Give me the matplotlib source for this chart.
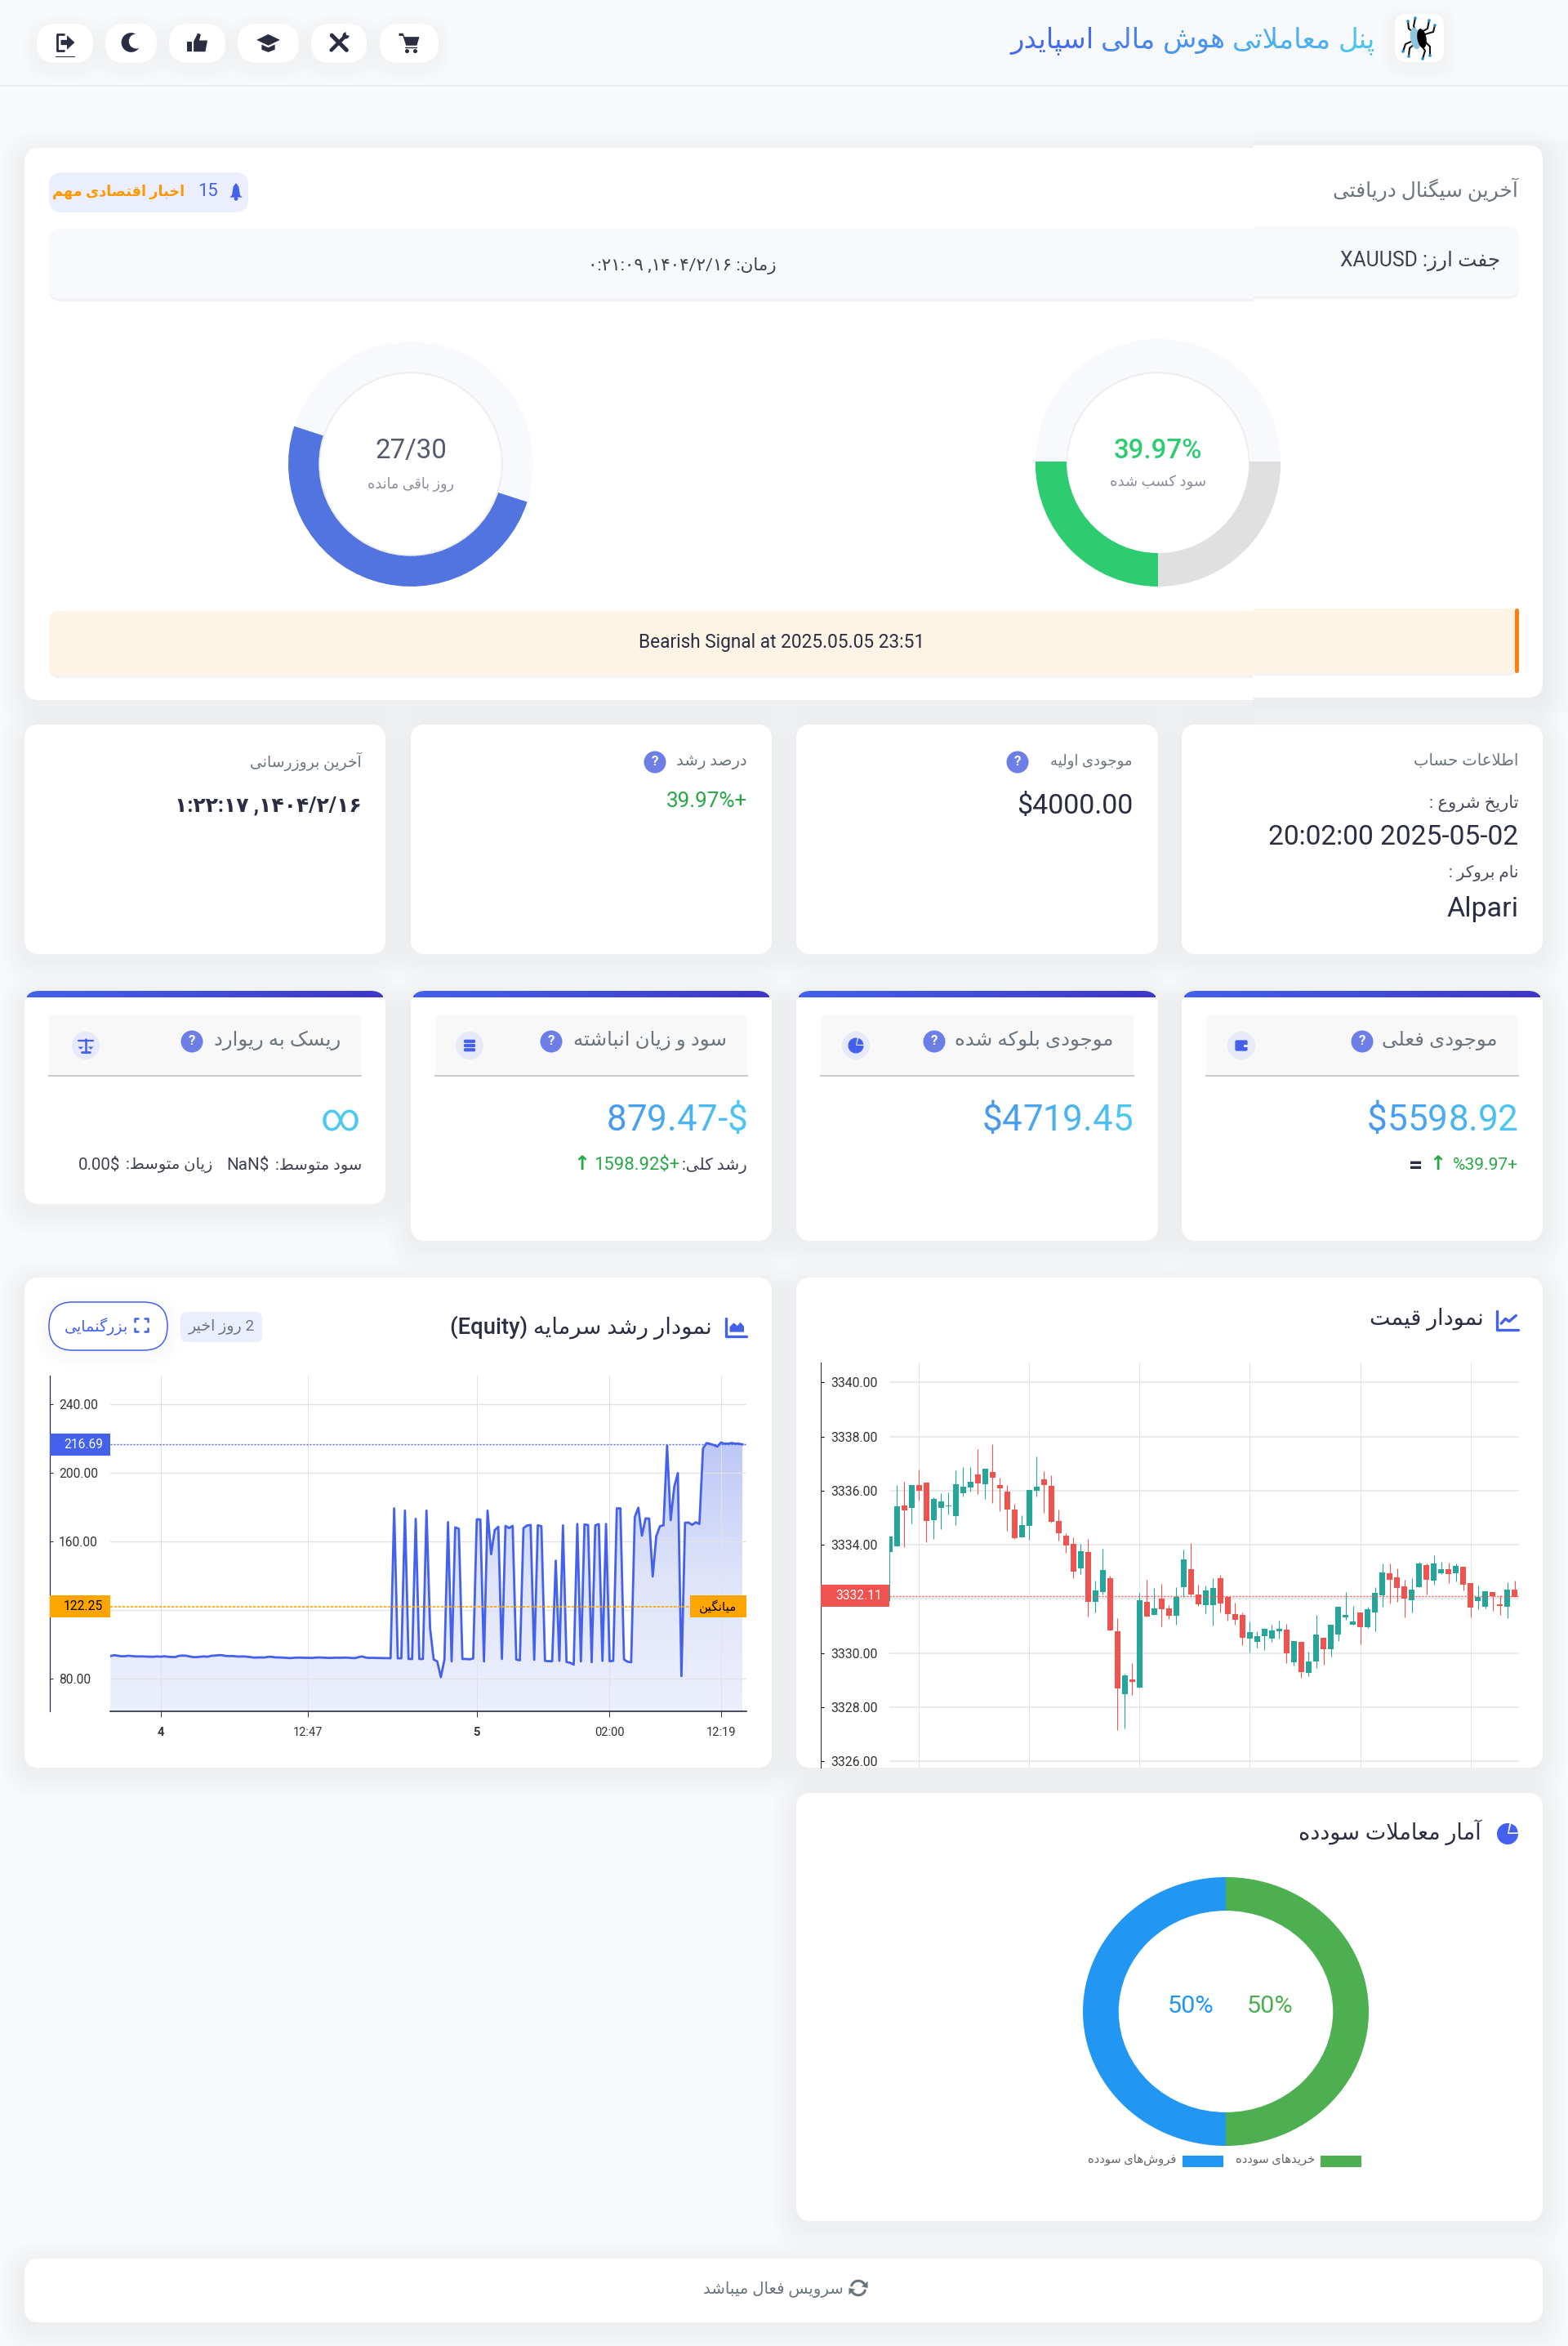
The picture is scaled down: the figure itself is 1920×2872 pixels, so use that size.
"""Persian trading dashboard, rebuilt with matplotlib."""
import re

import matplotlib
matplotlib.use("Agg")
import matplotlib.pyplot as plt
from matplotlib.colors import LinearSegmentedColormap, to_rgb
from matplotlib.patches import Circle, Ellipse, FancyBboxPatch, Polygon, Rectangle, Wedge
from matplotlib.transforms import blended_transform_factory
import numpy as np

W, H = 1920, 2872

# ---------- data ----------
candle_open = [3333.73, 3333.94, 3335.46, 3335.36, 3336.21, 3336.30, 3334.91, 3335.36, 3335.43, 3335.06,
               3335.90, 3336.11, 3336.60, 3336.24, 3336.69, 3336.21, 3335.97, 3335.30, 3334.27, 3334.70,
               3336.00, 3336.41, 3336.17, 3334.88, 3334.33, 3334.03, 3333.13, 3333.73, 3331.89, 3332.26,
               3332.76, 3330.80, 3328.48, 3329.02, 3328.72, 3331.89, 3331.40, 3332.02, 3331.65, 3331.38,
               3332.43, 3333.10, 3332.16, 3331.77, 3331.77, 3332.76, 3332.08, 3331.43, 3331.40, 3330.54,
               3330.42, 3330.62, 3330.54, 3330.80, 3330.86, 3329.66, 3330.42, 3329.26, 3329.69, 3330.56,
               3330.15, 3330.69, 3331.32, 3331.05, 3331.50, 3330.96, 3331.50, 3332.14, 3332.95, 3332.80,
               3332.46, 3331.95, 3332.43, 3333.25, 3332.67, 3332.95, 3333.10, 3332.95, 3333.19, 3332.59,
               3331.92, 3331.71, 3332.26, 3331.80, 3331.71, 3332.34]
candle_close = [3334.30, 3335.43, 3335.27, 3336.21, 3336.00, 3334.88, 3335.70, 3335.60, 3335.46, 3336.24,
                3336.14, 3336.33, 3336.27, 3336.81, 3336.48, 3336.09, 3335.30, 3334.24, 3334.73, 3336.03,
                3336.14, 3336.21, 3334.84, 3334.43, 3333.97, 3333.00, 3333.76, 3331.89, 3332.32, 3333.07,
                3330.83, 3328.69, 3329.18, 3328.93, 3331.95, 3331.35, 3331.65, 3331.62, 3331.38, 3332.08,
                3333.46, 3332.16, 3331.80, 3332.32, 3332.40, 3331.83, 3331.43, 3331.23, 3330.57, 3330.77,
                3330.62, 3330.89, 3330.83, 3330.89, 3330.00, 3330.45, 3329.29, 3329.69, 3330.69, 3330.15,
                3331.05, 3331.71, 3331.40, 3331.16, 3330.96, 3331.62, 3332.22, 3332.97, 3332.70, 3332.40,
                3332.02, 3332.34, 3333.31, 3332.70, 3333.31, 3333.10, 3332.92, 3333.22, 3332.53, 3331.68,
                3332.08, 3332.29, 3332.10, 3331.74, 3332.34, 3332.08]
candle_high = [3334.30, 3336.21, 3336.33, 3336.21, 3336.78, 3336.30, 3335.76, 3335.90, 3335.94, 3336.75,
               3336.87, 3336.87, 3337.54, 3336.81, 3337.71, 3336.48, 3336.21, 3335.51, 3335.09, 3336.03,
               3337.27, 3336.73, 3336.57, 3335.30, 3334.43, 3334.27, 3334.03, 3334.21, 3332.67, 3333.86,
               3332.86, 3331.29, 3329.23, 3329.63, 3332.22, 3332.70, 3332.40, 3332.56, 3331.76, 3332.43,
               3333.83, 3334.06, 3332.53, 3332.50, 3332.76, 3332.89, 3332.08, 3331.86, 3331.50, 3331.16,
               3330.80, 3330.93, 3331.05, 3331.20, 3331.08, 3330.45, 3330.42, 3330.06, 3331.40, 3330.56,
               3331.05, 3331.71, 3332.26, 3331.74, 3331.50, 3331.71, 3332.43, 3333.31, 3333.31, 3333.13,
               3332.70, 3332.76, 3333.37, 3333.31, 3333.61, 3333.37, 3333.34, 3333.31, 3333.19, 3332.59,
               3332.50, 3332.29, 3332.26, 3332.13, 3332.62, 3332.67]
candle_low = [3331.91, 3333.94, 3333.91, 3334.78, 3335.63, 3334.10, 3334.21, 3334.57, 3335.13, 3334.73,
              3335.78, 3335.97, 3335.87, 3335.70, 3335.54, 3335.24, 3334.52, 3334.21, 3334.27, 3334.19,
              3335.78, 3335.18, 3334.82, 3334.16, 3333.70, 3332.76, 3332.92, 3331.35, 3331.50, 3332.17,
              3330.83, 3327.15, 3327.21, 3328.45, 3328.72, 3331.35, 3331.40, 3330.99, 3331.26, 3331.05,
              3332.08, 3332.13, 3331.74, 3331.47, 3331.02, 3331.50, 3331.20, 3331.05, 3330.30, 3330.03,
              3330.21, 3330.12, 3330.42, 3330.54, 3329.63, 3329.54, 3329.10, 3329.16, 3329.45, 3329.56,
              3329.87, 3330.45, 3331.23, 3331.05, 3330.32, 3330.93, 3330.80, 3331.71, 3331.83, 3331.89,
              3331.32, 3331.50, 3332.43, 3332.16, 3332.53, 3332.92, 3332.59, 3332.64, 3332.32, 3331.32,
              3331.62, 3331.65, 3331.56, 3331.40, 3331.29, 3332.08]
price_ticks = [3340, 3338, 3336, 3334, 3332, 3330, 3328, 3326]
price_time_idx = [4, 19, 34, 49, 64, 79]
last_price = 3332.11

equity_values = [93.3, 93.8, 93.5, 93.2, 93.2, 93.5, 93.3, 93.1, 93.1, 93.1, 93.0, 92.9, 92.9, 93.1, 92.9, 93.2,
                 92.9, 92.8, 92.7, 93.4, 93.6, 93.5, 93.1, 92.7, 92.7, 92.9, 93.1, 92.9, 93.4, 93.6,
                 93.8, 93.8, 93.4, 93.3, 93.3, 93.1, 93.0, 93.1, 92.9, 92.7, 92.4, 92.5, 92.5, 92.5, 92.9,
                 92.8, 92.5, 92.5, 92.4, 92.3, 92.1, 92.3, 92.4, 92.4, 92.3, 92.3, 92.2, 92.4, 92.5, 92.4,
                 92.3, 92.2, 92.3, 92.4, 92.3, 92.4, 92.4, 92.2, 92.1, 92.6, 93.1, 92.5, 92.2, 92.3, 92.2,
                 92.2, 92.1, 92.1, 92.0,
                 179.4, 92.0, 92.0, 178.1, 91.6, 91.6, 173.3, 91.6, 91.6, 178.1, 109.5, 91.3, 90.2, 81.0, 91.3,
                 171.4, 90.2, 168.3, 167.5, 91.6, 91.6, 91.4, 91.9, 173.0, 172.9, 90.2, 178.1, 152.7, 166.7,
                 168.7, 91.6, 169.2, 167.9, 169.2, 91.3, 90.8, 167.9, 169.4, 169.7, 91.1, 169.5, 169.0, 90.5,
                 90.3, 90.3, 148.9, 90.5, 169.5, 89.8, 89.4, 88.3, 170.3, 90.2, 170.0, 169.7, 89.7, 169.5,
                 170.2, 90.5, 170.3, 90.3, 90.5, 179.4, 179.4, 91.3, 90.0, 89.7, 174.3, 179.8, 163.5, 173.5,
                 173.5, 139.7, 163.2, 169.0, 169.5, 215.9, 172.5, 192.0, 200.0, 81.6, 171.0, 171.1, 169.8,
                 171.3, 170.3, 214.3, 217.5, 217.0, 216.3, 215.4, 217.8, 217.1, 217.1, 217.5, 217.1, 217.1, 216.7]
equity_ticks = [240, 200, 160, 120, 80]
equity_time_idx = [14, 55, 102, 139, 170]
equity_time_labels = ["4", "12:47", "5", "02:00", "12:19"]
equity_last = 216.69
equity_mean = 122.25

days_arc = [50, 50]
profit_arc = [50, 25, 25]
win_shares = [50, 50]

plt.rcParams["font.family"] = ["Roboto", "DejaVu Sans"]

DARK = "#2b2d42"
GREY = "#6c757d"
BLUE = "#4361ee"
GREEN = "#28a745"
CANDLE_UP = "#26a69a"
CANDLE_DOWN = "#ef5350"
PAGE = "#f8f9fb"
DOTTED = (0, (1.44, 1.44))


# ---------- Persian text: matplotlib does no shaping, so pick the glyph forms here ----------
def _block(start, n):
    return tuple(chr(start + k) for k in range(n))


FORMS = {"ا": _block(0xFE8D, 2), "آ": _block(0xFE81, 2), "ب": _block(0xFE8F, 4), "پ": _block(0xFB56, 4),
         "ت": _block(0xFE95, 4), "ث": _block(0xFE99, 4), "ج": _block(0xFE9D, 4), "چ": _block(0xFB7A, 4),
         "ح": _block(0xFEA1, 4), "خ": _block(0xFEA5, 4), "د": _block(0xFEA9, 2), "ذ": _block(0xFEAB, 2),
         "ر": _block(0xFEAD, 2), "ز": _block(0xFEAF, 2), "ژ": _block(0xFB8A, 2), "س": _block(0xFEB1, 4),
         "ش": _block(0xFEB5, 4), "ص": _block(0xFEB9, 4), "ض": _block(0xFEBD, 4), "ط": _block(0xFEC1, 4),
         "ظ": _block(0xFEC5, 4), "ع": _block(0xFEC9, 4), "غ": _block(0xFECD, 4), "ف": _block(0xFED1, 4),
         "ق": _block(0xFED5, 4), "ک": _block(0xFB8E, 4), "گ": _block(0xFB92, 4), "ل": _block(0xFEDD, 4),
         "م": _block(0xFEE1, 4), "ن": _block(0xFEE5, 4), "و": _block(0xFEED, 2), "ه": _block(0xFEE9, 4),
         "ی": _block(0xFBFC, 4), "\ue000": _block(0xFEFB, 2)}
LTR_RUN = re.compile(r"[A-Za-z0-9۰-۹]+(?:[.:/\-][A-Za-z0-9۰-۹]+)*")


def fa(s):
    s = s.replace("لا", "\ue000")
    out = []
    for i, c in enumerate(s):
        if c not in FORMS:
            out.append(c)
            continue
        prev_joins = i > 0 and s[i - 1] in FORMS and len(FORMS[s[i - 1]]) == 4
        next_joins = i + 1 < len(s) and s[i + 1] in FORMS
        f = FORMS[c]
        if len(f) == 2:
            out.append(f[1 if prev_joins else 0])
        elif prev_joins and next_joins:
            out.append(f[3])
        elif prev_joins:
            out.append(f[1])
        elif next_joins:
            out.append(f[2])
        else:
            out.append(f[0])
    text = "".join(out).replace("\u200c", "")
    text = text[::-1].translate(str.maketrans("()", ")("))
    return LTR_RUN.sub(lambda m: m.group(0)[::-1], text)


# ---------- canvas ----------
fig = plt.figure(figsize=(W / 100, H / 100), dpi=100, facecolor=PAGE)
ax = fig.add_axes([0, 0, 1, 1], zorder=0)
ax.set_xlim(0, W)
ax.set_ylim(H, 0)
ax.axis("off")
renderer = fig.canvas.get_renderer()


def px_axes(x0, y0, x1, y1, zorder=1):
    a = fig.add_axes([x0 / W, 1 - y1 / H, (x1 - x0) / W, (y1 - y0) / H], zorder=zorder)
    a.patch.set_alpha(0)
    return a


def rbox(x0, y0, x1, y1, r, fc, ec="none", lw=0, alpha=None, clip=None, z=1):
    p = FancyBboxPatch((x0, y0), x1 - x0, y1 - y0, boxstyle=f"round,pad=0,rounding_size={r}",
                       fc=fc, ec=ec, lw=lw, alpha=alpha, zorder=z)
    ax.add_patch(p)
    if clip is not None:
        p.set_clip_path(Rectangle((clip[0], 0), clip[1] - clip[0], H, transform=ax.transData))
    return p


def card(x0, y0, x1, y1, r=18, clip=None, z=1, layers=10, drop=8):
    for k in range(1, layers + 1):
        g = k * 3
        rbox(x0 - g, y0 - g + drop, x1 + g, y1 + g + drop, r + g, "#000000", alpha=0.004, clip=clip, z=z)
    return rbox(x0, y0, x1, y1, r, "#ffffff", clip=clip, z=z)


def t(x, y, s, px, color=DARK, ha="right", weight="normal", va="center", shape=True, z=5):
    return ax.text(x, y, fa(s) if shape else s, fontsize=px * 0.72, color=color, ha=ha, va=va,
                   fontweight=weight, zorder=z)


def mix(c0, c1, f):
    a, b = np.array(to_rgb(c0)), np.array(to_rgb(c1))
    return tuple(a + (b - a) * f)


def grad_text(x_right, y_base, visual, px, c_left, c_right, by_word=False, weight="normal"):
    # each piece gets its own colour, so the gradient of the original shows
    def width(s):
        if not s:
            return 0.0
        tmp = ax.text(0, 0, s, fontsize=px * 0.72, fontweight=weight)
        w = tmp.get_window_extent(renderer).width
        tmp.remove()
        return w

    total = width(visual)
    x0 = x_right - total
    if by_word:
        stops = [m.start() for m in re.finditer(r"\S+", visual)]
        ends = [m.end() for m in re.finditer(r"\S+", visual)]
    else:
        stops = list(range(len(visual)))
        ends = [i + 1 for i in stops]
    for a, b in zip(stops, ends):
        pos = width(visual[:a])
        f = (pos + width(visual[a:b]) / 2) / total
        ax.text(x0 + pos, y_base, visual[a:b], fontsize=px * 0.72, color=mix(c_left, c_right, f),
                ha="left", va="baseline", fontweight=weight, zorder=5)


def poly(pts, cx, cy, s, color, z=6):
    ax.add_patch(Polygon([(cx + a * s, cy + b * s) for a, b in pts], fc=color, ec="none", zorder=z))


def stroke(pts, cx, cy, s, color, lw=2.0, z=6):
    ax.plot([cx + a * s for a, _ in pts], [cy + b * s for _, b in pts], color=color, lw=lw, zorder=z,
            solid_capstyle="round", solid_joinstyle="round", scalex=False, scaley=False)


def dot(cx, cy, r, color, z=6):
    ax.add_patch(Circle((cx, cy), r, fc=color, ec="none", zorder=z))


def icon(kind, cx, cy, s, color=DARK, bg="#ffffff"):
    if kind == "logout":
        stroke([(-0.1, -0.8), (-0.8, -0.8), (-0.8, 0.8), (-0.1, 0.8)], cx, cy, s, color, 2.0)
        poly([(-0.4, -0.25), (0.2, -0.25), (0.2, -0.7), (0.95, 0), (0.2, 0.7), (0.2, 0.25), (-0.4, 0.25)], cx, cy, s, color)
        stroke([(-0.95, 1.35), (0.95, 1.35)], cx, cy, s, color, 0.8)
    elif kind == "moon":
        dot(cx, cy, s * 0.95, color)
        dot(cx + s * 0.5, cy - s * 0.12, s * 0.72, bg, z=7)
    elif kind == "thumb":
        poly([(-1, -0.1), (-0.5, -0.1), (-0.5, 0.9), (-1, 0.9)], cx, cy, s, color)
        poly([(-0.35, -0.1), (0.05, -0.9), (0.35, -0.8), (0.2, -0.2), (1, -0.2), (0.8, 0.9), (-0.35, 0.9)], cx, cy, s, color)
    elif kind == "cap":
        poly([(-1.15, -0.25), (0, -0.8), (1.15, -0.25), (0, 0.3)], cx, cy, s, color)
        poly([(-0.65, 0.2), (0, 0.5), (0.65, 0.2), (0.65, 0.7), (0, 0.95), (-0.65, 0.7)], cx, cy, s, color)
    elif kind == "tools":
        stroke([(-0.7, -0.7), (0.75, 0.75)], cx, cy, s, color, 3.6)
        stroke([(0.55, -0.55), (-0.75, 0.75)], cx, cy, s, color, 3.2)
        dot(cx + s * 0.68, cy - s * 0.68, s * 0.32, color)
        dot(cx + s * 0.88, cy - s * 0.88, s * 0.2, bg, z=7)
    elif kind == "cart":
        poly([(-1, -0.9), (-0.6, -0.9), (-0.45, -0.55), (1, -0.55), (0.75, 0.3), (-0.3, 0.3), (-0.62, -0.65), (-1, -0.65)], cx, cy, s, color)
        stroke([(-0.4, 0.5), (0.75, 0.5)], cx, cy, s, color, 1.0)
        dot(cx - s * 0.2, cy + s * 0.85, s * 0.2, color)
        dot(cx + s * 0.6, cy + s * 0.85, s * 0.2, color)
    elif kind == "bell":
        poly([(0, -1), (0.3, -0.6), (0.45, 0.35), (0.7, 0.6), (-0.7, 0.6), (-0.45, 0.35), (-0.3, -0.6)], cx, cy, s, color)
        dot(cx, cy + s * 0.75, s * 0.22, color)
    elif kind == "wallet":
        rbox(cx - s * 0.8, cy - s * 0.7, cx + s * 0.8, cy + s * 0.7, s * 0.2, color, z=7)
        poly([(0.35, -0.1), (0.8, -0.1), (0.8, 0.2), (0.35, 0.2)], cx, cy, s, bg, z=8)
    elif kind == "pie":
        ax.add_patch(Wedge((cx, cy), s, 0, 280, fc=color, ec="none", zorder=7))
        ax.add_patch(Wedge((cx + s * 0.12, cy - s * 0.12), s * 0.85, 285, 360, fc=color, ec="none", zorder=7))
    elif kind == "coins":
        for off in (-0.55, 0.0, 0.55):
            rbox(cx - s * 0.75, cy + s * (off - 0.22), cx + s * 0.75, cy + s * (off + 0.22), s * 0.2, color, z=7)
    elif kind == "scale":
        stroke([(0, -0.85), (0, 0.8)], cx, cy, s, color, 1.8)
        stroke([(-0.5, 0.85), (0.5, 0.85)], cx, cy, s, color, 2.0)
        stroke([(-0.9, -0.6), (0.9, -0.6)], cx, cy, s, color, 1.6)
        poly([(-1, 0.15), (-0.3, 0.15), (-0.65, 0.5)], cx, cy, s, color)
        poly([(0.3, 0.15), (1, 0.15), (0.65, 0.5)], cx, cy, s, color)
    elif kind == "area":
        stroke([(-1, -0.9), (-1, 0.85), (1, 0.85)], cx, cy, s, color, 2.4)
        poly([(-0.6, 0.45), (-0.6, -0.05), (-0.2, -0.45), (0.15, -0.15), (0.45, -0.5), (0.8, -0.1), (0.8, 0.45)], cx, cy, s, color)
    elif kind == "line":
        stroke([(-1, -0.9), (-1, 0.85), (1, 0.85)], cx, cy, s, color, 2.4)
        stroke([(-0.6, 0.25), (-0.2, -0.2), (0.15, 0.05), (0.8, -0.5)], cx, cy, s, color, 2.4)
    elif kind == "expand":
        for sx in (-1, 1):
            for sy in (-1, 1):
                stroke([(sx * 0.45, sy), (sx, sy), (sx, sy * 0.45)], cx, cy, s, color, 1.8)
    elif kind == "sync":
        th = np.radians(np.arange(200, 345, 10))
        stroke(list(zip(0.8 * np.cos(th), 0.8 * np.sin(th))), cx, cy, s, color, 2.2)
        stroke(list(zip(-0.8 * np.cos(th), -0.8 * np.sin(th))), cx, cy, s, color, 2.2)
        poly([(1.05, -0.75), (1.05, 0.0), (0.35, -0.15)], cx, cy, s, color)
        poly([(-1.05, 0.75), (-1.05, 0.0), (-0.35, 0.15)], cx, cy, s, color)


def help_dot(cx, cy):
    dot(cx, cy, 13.5, "#6d7fe6")
    t(cx, cy - 0.5, "?", 17, "#ffffff", ha="center", weight="bold", shape=False, z=7)


# ---------- header ----------
ax.plot([0, W], [105, 105], color="#e9ebef", lw=1.2, zorder=1)
header_buttons = [(45, 114, "logout"), (129, 192, "moon"), (207, 276, "thumb"),
                  (291, 366, "cap"), (381, 449, "tools"), (465, 537, "cart")]
for x0, x1, kind in header_buttons:
    card(x0, 29, x1, 77, 24, layers=6, drop=6)
    icon(kind, (x0 + x1) / 2, 52, 12.5)
card(1708, 17, 1768, 76, 14, layers=6, drop=6)
# spider logo, offsets from the body centre
spider_legs = [[(-6, -7), (-12, -12), (-13, -21)], [(-3, -8), (-6, -15), (-4, -25)],
               [(4, -8), (11, -12), (13, -22)], [(8, -5), (18, -8), (20, -16)],
               [(-7, 3), (-16, 7), (-19, 16)], [(-4, 6), (-11, 12), (-12, 22)],
               [(3, 8), (8, 15), (5, 25)], [(7, 3), (14, 10), (14, 21)]]
for leg in spider_legs:
    stroke(leg, 1737, 47, 1, "#111111", 1.5)
    dot(1737 + leg[-1][0], 47 + leg[-1][1], 1.8, "#1f95d0", z=7)
ax.add_patch(Ellipse((1733, 47), 12, 27, angle=-10, fc="#8ec6dd", ec="none", zorder=7))
ax.add_patch(Ellipse((1741, 47), 11, 24, angle=-10, fc="#000000", ec="none", zorder=7))
grad_text(1684, 58, fa("پنل معاملاتی هوش مالی اسپایدر"), 34, "#4361ee", "#4cc9f0", by_word=True)

# ---------- signal panel: the part right of x=1535 sits 3px higher in the original ----------
for dy, clip in ((0, (0, 1535)), (-3, (1535, W))):
    z = 1 if dy == 0 else 1.5
    if dy != 0:
        ax.add_patch(Rectangle((1535, 172), 385, 700, fc="#f5f6f9", ec="none", zorder=1.2))
    card(30, 181 + dy, 1889, 857 + dy, clip=clip, z=z)
    rbox(60, 286 + dy, 1860, 369 + dy, 14, "#000000", alpha=0.05, clip=clip, z=z + 0.05)
    rbox(60, 280 + dy, 1860, 366 + dy, 14, "#f8f9fc", clip=clip, z=z + 0.1)
    rbox(60, 752 + dy, 1860, 830 + dy, 12, "#000000", alpha=0.05, clip=clip, z=z + 0.05)
    rbox(60, 748 + dy, 1860, 827 + dy, 12, "#fef4e5", clip=clip, z=z + 0.1)
rbox(1855, 745, 1860, 824, 2.5, "#fd7e14", z=2)

rbox(60, 211, 304, 260, 16, "#ebeffd", z=2)
icon("bell", 289, 235, 11, BLUE)
t(254, 234, "15", 22, BLUE, ha="center", shape=False)
t(226, 235, "اخبار اقتصادی مهم", 17.6, "#ff9800", weight="bold")
t(1859, 232, "آخرین سیگنال دریافتی", 24.8, GREY)
t(1837, 320, "جفت ارز: XAUUSD", 24.8, "#3f4152")
t(951, 325, "زمان: ۱۴۰۴/۲/۱۶, ۰:۲۱:۰۹", 21.5, "#3f4152")
t(957, 787, "Bearish Signal at 2025.05.05 23:51", 22.6, DARK, ha="center", shape=False)


def donut(cx, cy, values, colors, start, x_range=None, dy=0):
    # the axes itself crops the ring, x_range picks which slice of it this one shows
    x0, x1 = x_range if x_range is not None else (cx - 150, cx + 150)
    a = px_axes(x0, cy - 150 + dy, x1, cy + 150 + dy)
    a.pie(values, colors=colors, startangle=start, radius=1.0, wedgeprops={"width": 0.253, "linewidth": 0})
    a.add_patch(Circle((0, 0), 0.745, fc="none", ec="#ededed", lw=1.4))
    a.set_aspect("auto")
    a.set_xlim((x0 - cx) / 150, (x1 - cx) / 150)
    a.set_ylim(-1, 1)


donut(503, 568, days_arc, ["#5174e0", "#f8f9fc"], 162)
t(503, 552, "27/30", 33, "#555a6e", ha="center", shape=False)
t(503, 593, "روز باقی مانده", 17.6, "#8a8d9b", ha="center")
donut(1418, 568, profit_arc, ["#f8f9fc", "#2ecc71", "#e0e0e0"], 0, x_range=(1268, 1535))
donut(1418, 568, profit_arc, ["#f8f9fc", "#2ecc71", "#e0e0e0"], 0, x_range=(1535, 1568), dy=-3)
t(1418, 552, "39.97%", 33, "#2ecc71", ha="center", weight="medium", shape=False)
t(1418, 591, "سود کسب شده", 18, "#8a8d9b", ha="center")

# ---------- account info row ----------
cols = [(30, 472), (503, 945), (975, 1418), (1447, 1889)]
for x0, x1 in cols:
    card(x0, 887, x1, 1168)
t(1859, 932, "اطلاعات حساب", 19.7, GREY)
t(1859, 983, "تاریخ شروع :", 21, "#4a4c5c")
t(1859, 1025, "20:02:00 2025-05-02", 33.5, DARK, shape=False)
t(1859, 1069, "نام بروکر :", 20, "#4a4c5c")
t(1859, 1113, "Alpari", 34, DARK, shape=False)
t(1387, 932, "موجودی اولیه", 18, GREY)
help_dot(1246, 933)
t(1387, 987, "$4000.00", 34, DARK, shape=False)
t(915, 932, "درصد رشد", 19.7, GREY)
help_dot(802, 933)
t(915, 981, "39.97%+", 26, GREEN, shape=False)
t(443, 932, "آخرین بروزرسانی", 18.8, GREY)
t(443, 986, "۱۴۰۴/۲/۱۶, ۱:۲۲:۱۷", 25, DARK, weight="bold")

# ---------- KPI row ----------
band_cmap = LinearSegmentedColormap.from_list("band", ["#4361ee", "#3f37c9"])
kpi_cards = [(30, 472, 1474, "ریسک به ریوارد", "scale", 235, 105),
             (503, 945, 1519, "سود و زیان انباشته", "coins", 675, 575),
             (975, 1418, 1519, "موجودی بلوکه شده", "pie", 1144, 1048),
             (1447, 1889, 1519, "موجودی فعلی", "wallet", 1668, 1520)]
for x0, x1, y1, title, kind, hx, ix in kpi_cards:
    body = card(x0, 1213, x1, y1)
    im = ax.imshow(np.linspace(0, 1, 64)[None, :], extent=(x0 + 3, x1 - 3, 1221, 1213), cmap=band_cmap,
                   aspect="auto", zorder=2)
    im.set_clip_path(body)
    ax.add_patch(Rectangle((x0 + 30, 1243), x1 - x0 - 60, 73, fc="#f8f8f8", ec="none", zorder=2))
    ax.plot([x0 + 30, x1 - 30], [1317, 1317], color="#cccccc", lw=1.5, zorder=3)
    t(x1 - 55, 1274, title, 24.5, GREY)
    help_dot(hx, 1275)
    dot(ix, 1280, 17, "#e6eafa", z=3)
    icon(kind, ix, 1280, 9.5, BLUE, bg="#e6eafa")
ax.set_xlim(0, W)
ax.set_ylim(H, 0)

grad_text(1859, 1384, "$5598.92", 44, "#4895ef", "#4cc9f0")
grad_text(1387, 1384, "$4719.45", 44, "#4895ef", "#4cc9f0")
grad_text(915, 1384, "879.47-$", 44, "#4895ef", "#4cc9f0")
t(441, 1371, "∞", 47, "#4cc9f0", shape=False)

t(1859, 1427, "%39.97+", 21, GREEN, shape=False)
t(1770, 1426, "↑", 24, GREEN, weight="bold", shape=False)
t(1742, 1428, "=", 30, DARK, weight="bold", shape=False)
t(915, 1427, "رشد کلی:", 20, "#3f4152")
t(832, 1427, "1598.92$+", 22, GREEN, shape=False)
t(722, 1426, "↑", 24, GREEN, weight="bold", shape=False)
t(443, 1427, "سود متوسط:", 19.5, "#3f4152")
t(330, 1427, "NaN$", 20.5, "#3f4152", shape=False)
t(260, 1427, "زیان متوسط:", 19.5, "#3f4152")
t(147, 1427, "0.00$", 20.5, "#3f4152", shape=False)

# ---------- chart cards ----------
card(30, 1564, 945, 2164)
card(975, 1564, 1889, 2164)
card(975, 2195, 1889, 2719)
card(30, 2765, 1889, 2843)

icon("area", 901, 1625, 12.5, BLUE)
t(872, 1625, "نمودار رشد سرمایه (Equity)", 27.4, DARK, weight="medium")
rbox(221, 1606, 321, 1643, 8, "#ebeffd", z=2)
t(271, 1625, "2 روز اخیر", 19, GREY, ha="center")
card(60, 1594, 205, 1653, 29, z=2, layers=6, drop=4)
rbox(60, 1594, 205, 1653, 29, "#ffffff", ec=BLUE, lw=1.1, z=2.2)
icon("expand", 173, 1622, 8, BLUE)
t(157, 1624, "بزرگنمایی", 19, BLUE)

icon("line", 1846, 1617, 13, BLUE)
t(1817, 1615, "نمودار قیمت", 27, DARK, weight="medium")
icon("pie", 1846, 2245, 13, BLUE)
t(1814, 2243, "آمار معاملات سودده", 27, DARK, weight="medium")
icon("sync", 1051, 2801, 11, GREY)
t(1033, 2803, "سرویس فعال میباشد", 19.6, GREY)


def price_box(a, value, half, span, color, fg, label, side="left"):
    # coloured label on the value axis, half-height given in data units
    tr = blended_transform_factory(a.transAxes, a.transData)
    x0 = -span if side == "left" else 1 - span
    a.add_patch(Rectangle((x0, value - half), span, 2 * half, fc=color, ec="none", transform=tr,
                          clip_on=False, zorder=6))
    if side == "left":
        a.text(-0.012, value, label, transform=tr, ha="right", va="center", color=fg, fontsize=11.2, zorder=7, clip_on=False)
    else:
        a.text(1 - span / 2, value, label, transform=tr, ha="center", va="center", color=fg, fontsize=11, zorder=7, clip_on=False)


# ---------- candlestick chart ----------
px_per_candle = 9.007
a1 = px_axes(1089.1, 1668, 1860, 2164, zorder=2)
a1.set_xlim(0, (1860 - 1089.1) / px_per_candle)
a1.set_ylim(3340 - (2164 - 1692.3) / 33.14, 3340 + (1692.3 - 1668) / 33.14)
idx = np.arange(len(candle_open))
o, c, h, l = map(np.array, (candle_open, candle_close, candle_high, candle_low))
colors = [CANDLE_UP if cc >= oo else CANDLE_DOWN for oo, cc in zip(o, c)]
a1.vlines(idx, l, h, colors=colors, lw=0.8, zorder=3)
a1.bar(idx, np.maximum(np.abs(c - o), 0.03), bottom=np.minimum(o, c), width=0.78, color=colors, zorder=3)
a1.axhline(last_price, color=CANDLE_DOWN, ls=DOTTED, lw=1.0, zorder=4)
a1.set_xticks(price_time_idx)
a1.set_yticks(price_ticks)
a1.set_yticklabels(["" if v == 3332 else f"{v:.2f}" for v in price_ticks])
a1.grid(True, axis="y", color="#e4e4e4", lw=1.1)
a1.grid(True, axis="x", color="#e4e4e4", lw=0.7)
a1.set_axisbelow(True)
for s in ("top", "right", "bottom"):
    a1.spines[s].set_visible(False)
a1.spines["left"].set_position(("outward", 84.1 * 0.72))
a1.spines["left"].set_color("#333333")
a1.spines["left"].set_linewidth(0.8)
a1.tick_params(axis="x", length=0, labelbottom=False)
a1.tick_params(axis="y", direction="in", length=3, width=0.8, pad=-9, labelsize=11.4, labelcolor="#333333")
for lab in a1.get_yticklabels():
    lab.set_ha("left")
price_box(a1, last_price, 0.41, 84.1 / 770.9, CANDLE_DOWN, "#ffffff", f"{last_price:.2f}")

# ---------- equity chart ----------
a2 = px_axes(135.3, 1684, 914, 2095, zorder=2)
xs = np.arange(len(equity_values))
y_lo, y_hi = 80 - 39.7 / 2.1, 240 + 35.3 / 2.1
fill = a2.fill_between(xs, equity_values, y_lo, color="none")
grad_cmap = LinearSegmentedColormap.from_list("fill", ["#eceffc", "#dfe4fa", "#bdc8f6"])
img = a2.imshow(np.linspace(0, 1, 128)[:, None], extent=(0, xs[-1], y_lo, 218), origin="lower", cmap=grad_cmap,
                aspect="auto", zorder=0.2)
img.set_clip_path(fill.get_paths()[0], transform=a2.transData)
a2.plot(xs, equity_values, color=BLUE, lw=2.0, zorder=3, solid_joinstyle="round")
a2.axhline(equity_last, color=BLUE, ls=DOTTED, lw=1.0, zorder=4)
a2.axhline(equity_mean, color="#ffa500", ls=(0, (2, 1)), lw=1.2, zorder=4)
a2.set_xlim(0, 778.7 / 4.397)
a2.set_ylim(y_lo, y_hi)
a2.set_xticks(equity_time_idx)
a2.set_xticklabels(equity_time_labels)
for lab, txt in zip(a2.get_xticklabels(), equity_time_labels):
    if ":" not in txt:
        lab.set_fontweight("bold")
a2.set_yticks(equity_ticks)
a2.set_yticklabels(["" if v == 120 else f"{v:.2f}" for v in equity_ticks])
a2.grid(True, axis="y", color="#e2e2e6", lw=1.0)
a2.grid(True, axis="x", color="#e2e2e6", lw=0.7)
a2.set_axisbelow(True)
for s in ("top", "right"):
    a2.spines[s].set_visible(False)
a2.spines["left"].set_position(("outward", 74.6 * 0.72))
a2.spines["left"].set_color(DARK)
a2.spines["left"].set_linewidth(0.9)
a2.spines["bottom"].set_color(DARK)
a2.spines["bottom"].set_linewidth(1.2)
a2.tick_params(axis="x", length=5, width=0.7, pad=9, labelsize=10.5, labelcolor="#333333", color=DARK)
a2.tick_params(axis="y", direction="in", length=3, width=0.8, pad=-8, labelsize=11.2, labelcolor="#333333", color=DARK)
for lab in a2.get_yticklabels():
    lab.set_ha("left")
span2 = 74.6 / 778.7
price_box(a2, equity_last, 6.4, span2, BLUE, "#ffffff", f"{equity_last:.2f}")
price_box(a2, equity_mean, 6.4, span2, "#ffa500", "#000000", f"{equity_mean:.2f}")
price_box(a2, equity_mean, 6.4, 69 / 778.7, "#ffa500", "#000000", fa("میانگین"), side="right")

# ---------- winning trades donut (drawn stretched, like the original) ----------
a3 = px_axes(1501 - 175, 2462.5 - 164.5, 1501 + 175, 2462.5 + 164.5)
a3.pie(win_shares, colors=["#4caf50", "#2196f3"], startangle=90, counterclock=False,
       wedgeprops={"width": 0.25, "linewidth": 0})
a3.set_aspect("auto")
a3.set_xlim(-1, 1)
a3.set_ylim(-1, 1)
t(1555, 2456, f"{win_shares[0]}%", 30.5, "#4caf50", ha="center", shape=False)
t(1458, 2456, f"{win_shares[1]}%", 30.5, "#2196f3", ha="center", shape=False)
ax.add_patch(Rectangle((1617, 2639), 50, 14, fc="#4caf50", ec="none", zorder=3))
ax.add_patch(Rectangle((1448, 2639), 50, 14, fc="#2196f3", ec="none", zorder=3))
t(1610, 2644, "خریدهای سودده", 14.7, "#666666")
t(1440, 2644, "فروش\u200cهای سودده", 14.7, "#666666")

fig.savefig("out.png", dpi=100, facecolor=PAGE)
